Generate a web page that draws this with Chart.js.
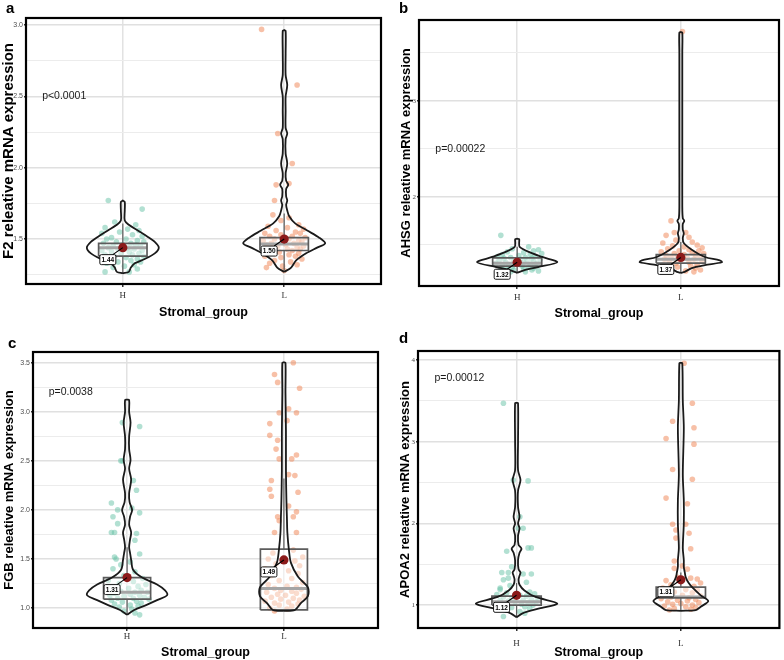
<!DOCTYPE html>
<html>
<head>
<meta charset="utf-8">
<script src="https://cdn.jsdelivr.net/npm/chart.js@4.4.1/dist/chart.umd.min.js"></script>
<style>
  body { margin: 0; background: #fff; }
  #wrap { position: relative; width: 784px; height: 660px; }
  .panel { position: absolute; width: 392px; height: 330px; }
  .tag { position: absolute; font: bold 15px "Liberation Sans", Arial, sans-serif; line-height: 15px; color: #000; }
</style>
</head>
<body>
<div id="wrap">
  <div class="panel" style="left:0;top:0"><canvas id="chartA"></canvas></div>
  <div class="panel" style="left:392px;top:0"><canvas id="chartB"></canvas></div>
  <div class="panel" style="left:0;top:330px"><canvas id="chartC"></canvas></div>
  <div class="panel" style="left:392px;top:330px"><canvas id="chartD"></canvas></div>
  <div class="tag" style="left:6px;top:0">a</div>
  <div class="tag" style="left:399px;top:0">b</div>
  <div class="tag" style="left:8px;top:335px">c</div>
  <div class="tag" style="left:399px;top:330px">d</div>
</div>
<script>
const groups = ['H', 'L'];

// ---- a: F2 ----
const f2H = [1.77,1.71,1.62,1.60,1.58,1.57,1.56,1.55,1.54,1.53, 1.52,1.51,1.50,1.50,1.49,1.48,1.48,1.47,1.47,1.46,
  1.46,1.45,1.45,1.44,1.44,1.43,1.43,1.42,1.42,1.41, 1.41,1.40,1.40,1.39,1.39,1.38,1.38,1.37,1.36,1.36,
  1.35,1.34,1.34,1.33,1.32,1.31,1.30,1.29,1.27,1.27];
const f2HJitter = [-0.09,0.12,-0.05,0.08,-0.11,0.03,0.10,-0.02,-0.13,0.06, 0.12,-0.07,0.02,-0.10,0.09,-0.04,0.13,0.05,-0.12,0.00,
  0.08,-0.06,0.11,-0.09,0.03,0.07,-0.03,0.12,-0.13,0.04, -0.07,0.10,-0.01,0.06,-0.11,0.13,-0.05,0.02,0.09,-0.08,
  0.05,-0.03,0.11,-0.10,0.07,0.01,-0.06,0.09,-0.11,0.04];
const f2L = [2.97,2.58,2.24,2.03,1.88,1.89,1.77,1.67,1.65,1.63, 1.60,1.59,1.58,1.57,1.56,1.55,1.54,1.54,1.53,1.52,
  1.52,1.51,1.50,1.50,1.49,1.49,1.48,1.48,1.47,1.47, 1.46,1.46,1.45,1.45,1.44,1.44,1.43,1.43,1.42,1.42,
  1.41,1.40,1.40,1.39,1.38,1.38,1.37,1.36,1.35,1.34, 1.33,1.32,1.31,1.30,1.28];
const f2LJitter = [-0.14,0.08,-0.04,0.05,-0.05,0.03,-0.06,-0.07,0.03,-0.02, 0.09,-0.10,0.02,0.12,-0.05,0.07,-0.12,0.10,-0.02,0.05,
  -0.09,0.13,-0.06,0.03,0.09,-0.13,-0.01,0.11,-0.08,0.06, 0.01,-0.11,0.12,-0.04,0.08,-0.07,0.02,0.10,-0.10,0.05,
  -0.03,0.09,-0.08,0.03,-0.12,0.07,-0.02,0.11,-0.06,0.04, -0.09,0.08,-0.01,-0.11,0.00];
const f2ViolinYH = [1.26,1.27,1.30,1.33,1.36,1.40,1.44,1.48,1.52,1.56,1.60,1.63,1.70,1.76,1.77];
const f2ViolinWH = [0,0.037,0.05,0.074,0.136,0.198,0.223,0.198,0.149,0.093,0.037,0.012,0.012,0.012,0];
const f2ViolinYL = [1.27,1.30,1.35,1.40,1.44,1.47,1.51,1.56,1.61,1.66,1.70,1.74,1.77,1.80,1.85,1.88,1.91,1.96,2.03,2.10,
  2.20,2.24,2.28,2.40,2.50,2.58,2.65,2.80,2.96,2.965];
const f2ViolinWL = [0,0.043,0.074,0.136,0.204,0.254,0.217,0.143,0.068,0.031,0.019,0.012,0.019,0.012,0.012,0.025,0.012,0.009,0.019,0.009,
  0.009,0.019,0.009,0.009,0.009,0.019,0.009,0.009,0.009,0];
const f2BoxH = [1.26,1.38,1.44,1.47,1.61];   // whisker low, q1, median, q3, whisker high
const f2BoxL = [1.28,1.42,1.465,1.51,1.68];
const f2Means = [1.44, 1.50];

// ---- b: AHSG ----
const ahsgH = [1.60,1.48,1.46,1.45,1.44,1.43,1.42,1.41,1.40,1.40, 1.39,1.38,1.38,1.37,1.37,1.36,1.36,1.35,1.35,1.34,
  1.34,1.33,1.33,1.32,1.32,1.31,1.31,1.30,1.30,1.29, 1.29,1.28,1.28,1.27,1.27,1.26,1.26,1.25,1.25,1.24,
  1.24,1.23,1.22,1.22];
const ahsgHJitter = [-0.10,0.07,-0.03,0.13,0.10,-0.06,0.04,0.15,-0.09,0.08, 0.01,-0.12,0.11,0.05,-0.04,0.09,-0.08,0.02,0.14,-0.11,
  0.06,-0.02,0.10,-0.07,0.04,0.12,-0.13,0.00,0.08,-0.05, 0.11,-0.09,0.03,0.07,-0.03,0.10,-0.10,0.04,-0.06,0.09,
  -0.02,0.13,0.05,-0.04];
const ahsgL = [3.72,1.75,1.63,1.63,1.60,1.58,1.55,1.53,1.52,1.50, 1.49,1.48,1.47,1.46,1.45,1.44,1.44,1.43,1.42,1.41,
  1.41,1.40,1.39,1.39,1.38,1.37,1.37,1.36,1.35,1.35, 1.34,1.33,1.33,1.32,1.31,1.30,1.29,1.28,1.27,1.26,
  1.25,1.24,1.23,1.22];
const ahsgLJitter = [0.01,-0.06,-0.04,0.03,-0.09,0.05,-0.03,0.07,-0.11,0.10, -0.05,0.02,0.13,-0.08,0.05,-0.01,0.11,-0.12,0.07,-0.04,
  0.14,0.02,-0.09,0.09,-0.02,0.12,-0.06,0.04,-0.10,0.08, 0.00,0.13,-0.07,0.05,-0.03,0.10,-0.11,0.06,-0.02,0.09,
  -0.06,0.12,0.03,0.08];
const ahsgViolinYH = [1.21,1.24,1.27,1.32,1.375,1.43,1.48,1.52,1.56,1.565];
const ahsgViolinWH = [0,0.049,0.128,0.245,0.153,0.067,0.015,0.012,0.012,0];
const ahsgViolinYL = [1.21,1.22,1.26,1.29,1.32,1.34,1.375,1.45,1.52,1.57,1.62,1.66,1.72,1.75,1.78,1.9,2.5,3.0,3.5,3.71,3.715];
const ahsgViolinWL = [0,0.024,0.067,0.147,0.251,0.238,0.147,0.067,0.018,0.012,0.018,0.012,0.012,0.021,0.012,0.009,0.009,0.009,0.009,0.009,0];
const ahsgBoxH = [1.21,1.28,1.31,1.365,1.48];
const ahsgBoxL = [1.21,1.31,1.35,1.40,1.53];
const ahsgMeans = [1.32, 1.37];

// ---- c: FGB ----
const fgbH = [2.89,2.85,2.50,2.50,2.30,2.20,2.07,2.00,2.02,1.93, 1.97,1.86,1.77,1.77,1.76,1.69,1.55,1.52,1.50,1.47,
  1.44,1.40,1.37,1.33,1.30,1.28,1.27,1.25,1.24,1.22, 1.21,1.20,1.19,1.18,1.17,1.16,1.16,1.15,1.14,1.13,
  1.13,1.12,1.11,1.10,1.10,1.09,1.08,1.07,1.06,1.05, 1.04,1.03,1.02,1.01,0.99,0.97,0.95,0.93];
const fgbHJitter = [-0.03,0.08,-0.04,-0.03,0.04,0.06,-0.10,-0.06,0.03,-0.09, 0.08,-0.06,-0.10,-0.08,0.06,0.05,0.08,-0.08,-0.07,0.02,
  -0.04,-0.09,0.05,-0.02,0.10,-0.12,0.04,-0.05,0.12,0.07, -0.09,0.01,-0.13,0.09,-0.04,0.05,0.13,-0.08,0.02,-0.11,
  0.08,-0.02,0.11,-0.06,0.04,0.14,-0.10,0.06,-0.03,0.09, -0.08,0.02,0.07,-0.05,0.03,-0.02,0.05,0.08];
const fgbL = [3.50,3.38,3.30,3.24,3.03,2.99,2.99,2.91,2.88,2.76, 2.71,2.62,2.56,2.52,2.52,2.36,2.35,2.30,2.21,2.18,
  2.14,2.04,1.98,1.93,1.93,1.89,1.77,1.77,1.59,1.56, 1.52,1.50,1.48,1.45,1.43,1.40,1.38,1.35,1.33,1.30,
  1.28,1.26,1.24,1.22,1.21,1.20,1.19,1.18,1.17,1.16, 1.15,1.14,1.13,1.12,1.11,1.10,1.09,1.08,1.07,1.06,
  1.05,1.04,1.03,1.02,1.00,0.99,0.97];
const fgbLJitter = [0.06,-0.06,-0.04,0.10,0.03,-0.03,0.08,0.02,-0.09,-0.09, -0.04,-0.05,0.08,0.05,-0.03,0.03,0.07,-0.08,-0.09,0.09,
  -0.08,0.03,0.08,-0.04,0.06,-0.03,-0.06,0.08,0.06,-0.07, 0.12,-0.10,0.07,-0.05,0.10,-0.12,0.03,0.09,-0.08,0.05,
  -0.03,0.12,-0.10,0.02,0.08,-0.06,0.11,-0.02,0.05,-0.11, 0.08,-0.04,0.01,0.13,-0.08,0.06,-0.02,0.10,-0.12,0.03,
  -0.06,0.09,-0.03,0.05,-0.09,0.02,-0.06];
const fgbViolinYH = [0.93,0.98,1.03,1.08,1.13,1.18,1.24,1.31,1.39,1.49,1.56,1.62,1.70,1.77,1.85,1.93,2.0,2.08,2.17,2.31,
  2.42,2.51,2.62,2.75,2.89,3.0,3.12,3.125];
const fgbViolinWH = [0,0.045,0.121,0.191,0.255,0.242,0.191,0.096,0.038,0.026,0.019,0.013,0.019,0.026,0.013,0.019,0.032,0.016,0.013,0.026,
  0.013,0.022,0.013,0.013,0.022,0.013,0.013,0];
const fgbViolinYL = [0.97,0.98,1.05,1.12,1.21,1.32,1.46,1.59,1.77,1.93,2.10,2.4,2.8,3.2,3.5,3.505];
const fgbViolinWL = [0,0.070,0.108,0.153,0.153,0.089,0.045,0.032,0.022,0.019,0.016,0.013,0.013,0.010,0.010,0];
const fgbBoxH = [0.93,1.09,1.16,1.31,1.62];
const fgbBoxL = [0.97,0.98,1.20,1.60,2.32];
const fgbMeans = [1.31, 1.49];

// ---- d: APOA2 ----
const apoa2H = [3.47,2.53,2.52,2.08,1.94,1.94,1.70,1.70,1.66,1.47, 1.40,1.40,1.38,1.38,1.33,1.31,1.28,1.24,1.21,1.19,
  1.16,1.15,1.14,1.13,1.12,1.11,1.10,1.09,1.08,1.07, 1.06,1.06,1.05,1.04,1.04,1.03,1.02,1.01,1.00,0.99,
  0.98,0.97,0.96,0.94,0.92,0.90,0.86];
const apoa2HJitter = [-0.08,-0.02,0.07,0.02,0.01,0.04,0.07,0.09,-0.06,-0.03, -0.09,-0.05,0.04,0.09,-0.05,-0.08,0.06,-0.04,-0.10,-0.10,
  0.08,-0.06,0.11,-0.12,0.02,0.06,-0.08,0.13,-0.03,0.09, -0.10,0.04,-0.05,0.12,-0.01,0.07,-0.09,0.03,0.10,-0.06,
  0.05,-0.03,0.08,-0.07,0.02,0.05,-0.08];
const apoa2L = [3.96,3.47,3.25,3.17,3.04,2.97,2.66,2.54,2.31,2.24, 1.99,1.99,1.92,1.88,1.82,1.69,1.54,1.48,1.45,1.44,
  1.34,1.33,1.32,1.30,1.27,1.25,1.23,1.21,1.19,1.18, 1.16,1.15,1.13,1.12,1.11,1.10,1.09,1.08,1.07,1.06,
  1.05,1.04,1.03,1.02,1.01,1.00,0.99,0.98,0.97,0.96, 0.95,0.94];
const apoa2LJitter = [0.02,0.07,-0.05,0.08,-0.09,0.08,-0.05,0.07,-0.09,0.04, -0.05,0.03,-0.03,0.05,-0.03,0.06,-0.04,0.01,-0.04,0.04,
  -0.02,0.06,0.10,-0.09,0.12,-0.06,0.08,-0.11,0.03,0.10, -0.04,0.07,-0.09,0.01,0.12,-0.06,0.05,-0.12,0.09,-0.02,
  0.04,-0.08,0.11,0.00,-0.05,0.07,-0.10,0.03,0.09,-0.04, 0.06,-0.07];
const apoa2ViolinYH = [0.85,0.90,0.96,1.02,1.10,1.18,1.25,1.31,1.36,1.40,1.44,1.55,1.64,1.69,1.74,1.85,1.94,2.0,2.08,2.2,
  2.4,2.53,2.65,3.0,3.47,3.475];
const apoa2ViolinWH = [0,0.036,0.139,0.248,0.115,0.048,0.018,0.012,0.018,0.024,0.012,0.009,0.018,0.030,0.012,0.009,0.018,0.009,0.018,0.009,
  0.009,0.024,0.009,0.009,0.009,0];
const apoa2ViolinYL = [0.93,0.94,0.98,1.05,1.12,1.21,1.27,1.34,1.40,1.47,1.55,1.7,2.0,2.28,2.6,3.17,3.5,3.96,3.965];
const apoa2ViolinWL = [0,0.091,0.121,0.167,0.121,0.073,0.048,0.030,0.024,0.018,0.018,0.012,0.018,0.018,0.012,0.018,0.012,0.009,0];
const apoa2BoxH = [0.85,1.00,1.04,1.11,1.27];
const apoa2BoxL = [0.94,1.09,1.10,1.22,1.40];
const apoa2Means = [1.12, 1.31];

// ---- style ----
const sans = '"Liberation Sans", Arial, sans-serif';
const serif = '"Liberation Serif", "Times New Roman", serif';
const pointColors = ['rgba(102,194,165,0.5)', 'rgba(240,140,95,0.55)'];
const boxGrey = '#5c5c5c';
const BOX_HALF = 0.15;

function violinOutline(cx, ys, ws) {
  const pts = [];
  for (let i = 0; i < ys.length; i++) pts.push({x: cx - ws[i], y: ys[i]});
  for (let i = ys.length - 1; i >= 0; i--) pts.push({x: cx + ws[i], y: ys[i]});
  return pts;
}

// frame, p-value text and mean labels
const decor = {
  id: 'decor',
  afterDatasetsDraw(chart, args, opts) {
    const {ctx, chartArea: a, scales: {x, y}} = chart;
    ctx.save();
    ctx.font = '10.5px ' + sans;
    ctx.fillStyle = '#1a1a1a';
    ctx.textAlign = 'left';
    ctx.textBaseline = 'middle';
    ctx.fillText(opts.pText, x.getPixelForValue(0.5), y.getPixelForValue(opts.pY));

    opts.means.forEach((m, i) => {
      const px = x.getPixelForValue(i + 1), py = y.getPixelForValue(m);
      const lx = px - 15, ly = py + 12, w = 16, h = 10;
      ctx.strokeStyle = '#000';
      ctx.lineWidth = 1.1;
      ctx.beginPath();
      ctx.moveTo(px, py);
      ctx.lineTo(lx + w / 2 - 3, ly - h / 2);
      ctx.stroke();
      ctx.fillStyle = '#fff';
      ctx.lineWidth = 0.9;
      ctx.beginPath();
      ctx.roundRect(lx - w / 2, ly - h / 2, w, h, 1.5);
      ctx.fill();
      ctx.stroke();
      ctx.fillStyle = '#000';
      ctx.font = 'bold 6.5px ' + sans;
      ctx.textAlign = 'center';
      ctx.fillText(m.toFixed(2), lx, ly + 0.5);
    });

    ctx.strokeStyle = '#000';
    ctx.lineWidth = 2.2;
    ctx.strokeRect(a.left, a.top, a.right - a.left, a.bottom - a.top);
    ctx.restore();
  }
};

function makePanel(p) {
  const datasets = [];
  groups.forEach((g, i) => {
    const cx = i + 1;
    const b = p.box[i];
    datasets.push({
      label: g + ' mean', order: 0,
      data: [{x: cx, y: p.means[i]}],
      pointRadius: 4.6, pointBackgroundColor: '#8b1a1a', pointBorderWidth: 0
    });
    datasets.push({
      label: g + ' violin', order: 1, showLine: true, tension: 0.3,
      data: violinOutline(cx, p.violinY[i], p.violinW[i]),
      borderColor: '#1a1a1a', borderWidth: 1.8, pointRadius: 0
    });
    datasets.push({
      label: g + ' box', order: 2, showLine: true, fill: 'shape',
      backgroundColor: 'rgba(255,255,255,0.45)',
      data: [{x: cx - BOX_HALF, y: b[1]}, {x: cx + BOX_HALF, y: b[1]}, {x: cx + BOX_HALF, y: b[3]},
             {x: cx - BOX_HALF, y: b[3]}, {x: cx - BOX_HALF, y: b[1]}],
      borderColor: boxGrey, borderWidth: 1.7, pointRadius: 0
    });
    datasets.push({
      label: g + ' median', order: 2, showLine: true,
      data: [{x: cx - BOX_HALF, y: b[2]}, {x: cx + BOX_HALF, y: b[2]}],
      borderColor: boxGrey, borderWidth: 3, pointRadius: 0
    });
    datasets.push({
      label: g + ' whiskers', order: 2, showLine: true, spanGaps: false,
      data: [{x: cx, y: b[0]}, {x: cx, y: b[1]}, {x: cx, y: null}, {x: cx, y: b[3]}, {x: cx, y: b[4]}],
      borderColor: boxGrey, borderWidth: 1.2, pointRadius: 0
    });
    datasets.push({
      label: g + ' samples', order: 3,
      data: p.values[i].map((v, k) => ({x: cx + (p.jitter[i][k] || 0), y: v})),
      pointRadius: 2.8, pointBackgroundColor: pointColors[i], pointBorderWidth: 0
    });
  });

  const isMajor = v => Math.abs(v / p.major - Math.round(v / p.major)) < 1e-6;

  return new Chart(document.getElementById(p.canvas), {
    type: 'scatter',
    data: {datasets},
    plugins: [decor],
    options: {
      responsive: true,
      maintainAspectRatio: false,
      animation: false,
      layout: {padding: {top: p.top, right: p.right, left: 0, bottom: 0}},
      plugins: {
        legend: {display: false},
        tooltip: {enabled: false},
        decor: {pText: p.pText, pY: p.pY, means: p.means}
      },
      scales: {
        x: {
          type: 'linear', min: 0.4, max: 2.6,
          afterFit: s => { s.height = p.xHeight; },
          afterBuildTicks: s => { s.ticks = groups.map((g, i) => ({value: i + 1})); },
          border: {display: false},
          grid: {color: '#e2e2e2', lineWidth: 1.5, tickLength: 3, tickColor: '#333'},
          ticks: {autoSkip: false, maxRotation: 0, padding: p.xTickPad, color: '#333',
                  font: {family: serif, size: 9}, callback: v => groups[v - 1] || ''},
          title: {display: true, text: 'Stromal_group', color: '#000',
                  font: {family: sans, size: 12.5, weight: 'bold'}, padding: {top: 0, bottom: p.xTitlePad}}
        },
        y: {
          type: 'linear', min: p.yMin, max: p.yMax,
          afterFit: s => { s.width = p.yWidth; },
          border: {display: false},
          grid: {
            color: c => isMajor(c.tick.value) ? '#e0e0e0' : '#ececec',
            lineWidth: c => isMajor(c.tick.value) ? 1.5 : 1,
            tickLength: 2,
            tickColor: c => isMajor(c.tick.value) ? '#333' : 'rgba(0,0,0,0)'
          },
          ticks: {stepSize: p.step, includeBounds: false, autoSkip: false, maxTicksLimit: 40, padding: 1,
                  color: '#4d4d4d', font: {family: p.tickFamily, size: 7},
                  callback: v => isMajor(v) ? v.toFixed(p.digits) : ''},
          title: {display: true, text: p.yTitle, color: '#000',
                  font: {family: sans, size: p.titleSize, weight: 'bold'}, padding: {top: p.yTitlePad, bottom: 0}}
        }
      }
    }
  });
}

makePanel({canvas: 'chartA', yTitle: 'F2 releative mRNA expression', titleSize: 15, pText: 'p<0.0001', pY: 2.5,
  yMin: 1.185, yMax: 3.05, step: 0.25, major: 0.5, digits: 1, tickFamily: sans,
  values: [f2H, f2L], jitter: [f2HJitter, f2LJitter], violinY: [f2ViolinYH, f2ViolinYL], violinW: [f2ViolinWH, f2ViolinWL],
  box: [f2BoxH, f2BoxL], means: f2Means,
  top: 18, right: 11, yWidth: 26, xHeight: 46, yTitlePad: 0, xTickPad: 3, xTitlePad: 10});

makePanel({canvas: 'chartB', yTitle: 'AHSG releative mRNA expression', titleSize: 13, pText: 'p=0.00022', pY: 2.5,
  yMin: 1.073, yMax: 3.84, step: 0.5, major: 1, digits: 0, tickFamily: serif,
  values: [ahsgH, ahsgL], jitter: [ahsgHJitter, ahsgLJitter], violinY: [ahsgViolinYH, ahsgViolinYL], violinW: [ahsgViolinWH, ahsgViolinWL],
  box: [ahsgBoxH, ahsgBoxL], means: ahsgMeans,
  top: 20, right: 5, yWidth: 27, xHeight: 44, yTitlePad: 7, xTickPad: 3, xTitlePad: 9});

makePanel({canvas: 'chartC', yTitle: 'FGB releative mRNA expression', titleSize: 13, pText: 'p=0.0038', pY: 3.2,
  yMin: 0.796, yMax: 3.61, step: 0.25, major: 0.5, digits: 1, tickFamily: sans,
  values: [fgbH, fgbL], jitter: [fgbHJitter, fgbLJitter], violinY: [fgbViolinYH, fgbViolinYL], violinW: [fgbViolinWH, fgbViolinWL],
  box: [fgbBoxH, fgbBoxL], means: fgbMeans,
  top: 22, right: 14, yWidth: 33, xHeight: 32, yTitlePad: 2, xTickPad: 0, xTitlePad: 0});

makePanel({canvas: 'chartD', yTitle: 'APOA2 releative mRNA expression', titleSize: 13, pText: 'p=0.00012', pY: 3.78,
  yMin: 0.72, yMax: 4.11, step: 0.5, major: 1, digits: 0, tickFamily: serif,
  values: [apoa2H, apoa2L], jitter: [apoa2HJitter, apoa2LJitter], violinY: [apoa2ViolinYH, apoa2ViolinYL], violinW: [apoa2ViolinWH, apoa2ViolinWL],
  box: [apoa2BoxH, apoa2BoxL], means: apoa2Means,
  top: 21, right: 3, yWidth: 26, xHeight: 32, yTitlePad: 6, xTickPad: 7, xTitlePad: 0});
</script>
</body>
</html>
